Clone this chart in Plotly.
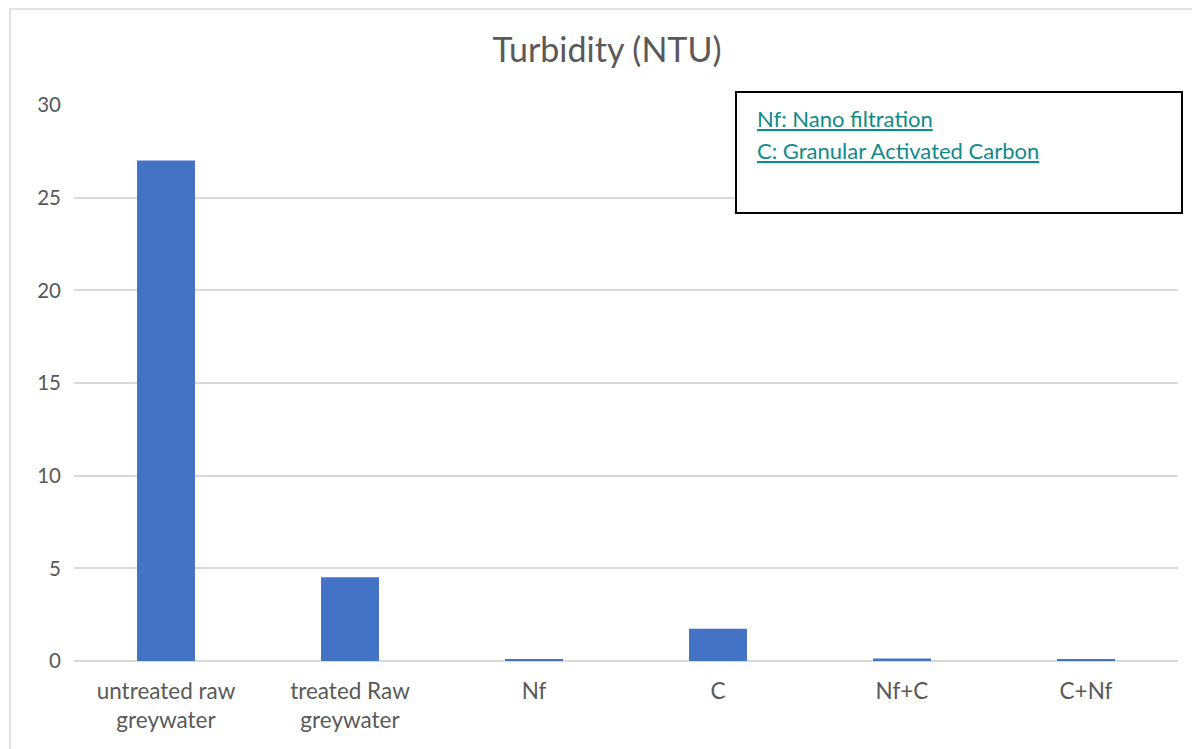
import plotly.graph_objects as go

categories = ["untreated raw<br>greywater", "treated Raw<br>greywater", "Nf", "C", "Nf+C", "C+Nf"]
turbidity = [27.0, 4.52, 0.1, 1.74, 0.14, 0.1]
y_ticks = [0, 5, 10, 15, 20, 25, 30]
note_lines = ["Nf: Nano filtration", "C: Granular Activated Carbon"]

OFF = 8  # page body margin
W, H = 1200 - OFF, 749 - OFF
L, R, T, B = 74 - OFF, 22, 105 - OFF, 88
pw, ph = W - L - R, H - T - B

def px(x):
    return (x - OFF - L) / pw

def py(y):
    return (H - B - (y - OFF)) / ph

fig = go.Figure(go.Bar(
    x=categories, y=turbidity,
    marker=dict(color="#4472C4", line=dict(width=0)),
    width=0.315,
))

font = "Lato, Open Sans, sans-serif"
fig.update_layout(
    width=W, height=H,
    margin=dict(l=L, r=R, t=T, b=B),
    paper_bgcolor="white", plot_bgcolor="white",
    showlegend=False,
    title=dict(text="Turbidity (NTU)", xref="container", x=(607 - OFF) / W, xanchor="center",
               yref="container", y=1 - (50 - OFF) / H, yanchor="middle",
               font=dict(family=font, size=34, color="#595959")),
    xaxis=dict(showgrid=False, showline=False, ticks="", ticklabelstandoff=14,
               tickfont=dict(family=font, size=22.5, color="#595959")),
    yaxis=dict(range=[0, 30], tickvals=y_ticks, showgrid=True, gridcolor="#D9D9D9",
               gridwidth=1.5, zeroline=True, zerolinecolor="#D9D9D9", zerolinewidth=1.5,
               showline=False, ticks="", ticklabelstandoff=12,
               tickfont=dict(family=font, size=20.5, color="#595959")),
    shapes=[
        dict(type="rect", xref="paper", yref="paper",
             x0=px(10), x1=px(1215), y0=py(770), y1=py(9),
             line=dict(color="#D9D9D9", width=1.5), fillcolor="rgba(0,0,0,0)", layer="below"),
        dict(type="rect", xref="paper", yref="paper",
             x0=px(736), x1=px(1182), y0=py(213), y1=py(92),
             line=dict(color="black", width=2), fillcolor="white"),
    ],
    annotations=[
        dict(xref="paper", yref="paper", x=px(755), y=py(119 + 31 * i),
             xanchor="left", yanchor="middle", showarrow=False,
             text=f"<u>{t}</u>", font=dict(family=font, size=22, color="#108A8A"))
        for i, t in enumerate(note_lines)
    ],
)

fig.write_html("out.html")
